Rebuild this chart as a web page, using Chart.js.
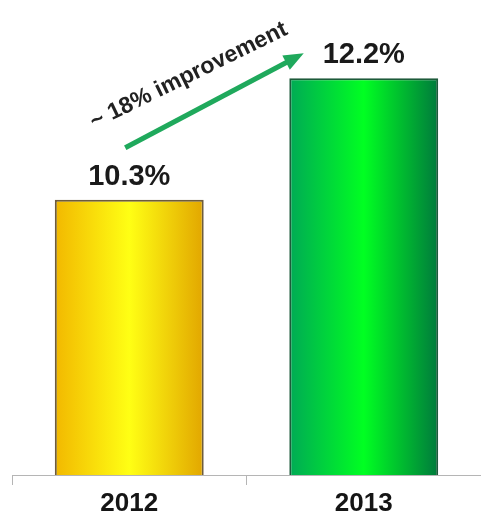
<!DOCTYPE html>
<html>
<head>
<meta charset="utf-8">
<script src="https://cdn.jsdelivr.net/npm/chart.js@4.4.1/dist/chart.umd.min.js"></script>
<style>
  html, body { margin: 0; padding: 0; background: #fff; }
  #wrap { width: 481px; height: 516px; }
</style>
</head>
<body>
<div id="wrap"><canvas id="barChart" width="481" height="516"></canvas></div>
<script>
// data
var years = ["2012", "2013"];
var rates = [10.3, 12.2];
var note = "~ 18% improvement";

// bar look: left edge, middle, right edge, border
var barShades = [
  ["#f2b800", "#ffff14", "#e2a600", "#6e5c3c"],
  ["#00aa55", "#00ff22", "#007a3c", "#1d5a3a"]
];
var fontFam = '"Liberation Sans", Arial, sans-serif';

function barFill(context) {
  var chart = context.chart;
  var area = chart.chartArea;
  var i = context.dataIndex;
  var s = barShades[i];
  if (!area) return s[1];
  var x = chart.scales.x;
  var half = (x.width / years.length) * 0.635 / 2;
  var cx = x.getPixelForValue(i);
  var g = chart.ctx.createLinearGradient(cx - half, 0, cx + half, 0);
  g.addColorStop(0, s[0]);
  g.addColorStop(0.5, s[1]);
  g.addColorStop(1, s[2]);
  return g;
}

// value labels above bars + the arrow with its note
var extras = {
  id: "extras",
  afterDatasetsDraw: function(chart) {
    var ctx = chart.ctx;
    var bars = chart.getDatasetMeta(0).data;
    ctx.save();
    ctx.fillStyle = "#1a1a1a";
    ctx.font = "bold 29px " + fontFam;
    ctx.textAlign = "center";
    ctx.textBaseline = "alphabetic";
    bars.forEach(function(b, i) {
      ctx.fillText(rates[i].toFixed(1) + "%", b.x, b.y - 15);
    });

    var x0 = bars[0].x - 4, y0 = bars[0].y - 52;
    var x1 = bars[1].x - 60, y1 = bars[1].y - 25;
    var ang = Math.atan2(y1 - y0, x1 - x0);
    var head = 20;
    ctx.strokeStyle = "#1fa95c";
    ctx.fillStyle = "#1fa95c";
    ctx.lineWidth = 5;
    ctx.beginPath();
    ctx.moveTo(x0, y0);
    ctx.lineTo(x1 - head * 0.8 * Math.cos(ang), y1 - head * 0.8 * Math.sin(ang));
    ctx.stroke();
    ctx.beginPath();
    ctx.moveTo(x1, y1);
    ctx.lineTo(x1 - head * Math.cos(ang) + 8 * Math.sin(ang), y1 - head * Math.sin(ang) - 8 * Math.cos(ang));
    ctx.lineTo(x1 - head * Math.cos(ang) - 8 * Math.sin(ang), y1 - head * Math.sin(ang) + 8 * Math.cos(ang));
    ctx.closePath();
    ctx.fill();

    var mx = (x0 + x1) / 2 - 23, my = (y0 + y1) / 2 - 19;
    ctx.translate(mx, my);
    ctx.rotate(-26 * Math.PI / 180);
    ctx.fillStyle = "#222";
    ctx.font = "bold 23px " + fontFam;
    ctx.textAlign = "center";
    ctx.fillText(note, 0, 0);
    ctx.restore();
  }
};

var ctx = document.getElementById("barChart").getContext("2d");
window.rateChart = new Chart(ctx, {
  type: "bar",
  data: {
    labels: years,
    datasets: [{
      data: rates,
      backgroundColor: barFill,
      borderColor: function(c) { return barShades[c.dataIndex][3]; },
      borderWidth: 2,
      borderSkipped: false,
      categoryPercentage: 1,
      barPercentage: 0.635
    }]
  },
  options: {
    responsive: false,
    animation: false,
    layout: { padding: { top: 27, left: 12, right: 0, bottom: 0 } },
    plugins: {
      legend: { display: false },
      tooltip: { enabled: false }
    },
    scales: {
      x: {
        grid: { drawOnChartArea: false, drawTicks: true, tickLength: 10, color: "#b5b5b5" },
        border: { color: "#b5b5b5", width: 1 },
        ticks: { color: "#151515", font: { family: fontFam, size: 26, weight: "bold" }, padding: 3 },
        afterFit: function(scale) { scale.height = 41; }
      },
      y: {
        display: false,
        min: 6,
        max: 13
      }
    }
  },
  plugins: [extras]
});
</script>
</body>
</html>
